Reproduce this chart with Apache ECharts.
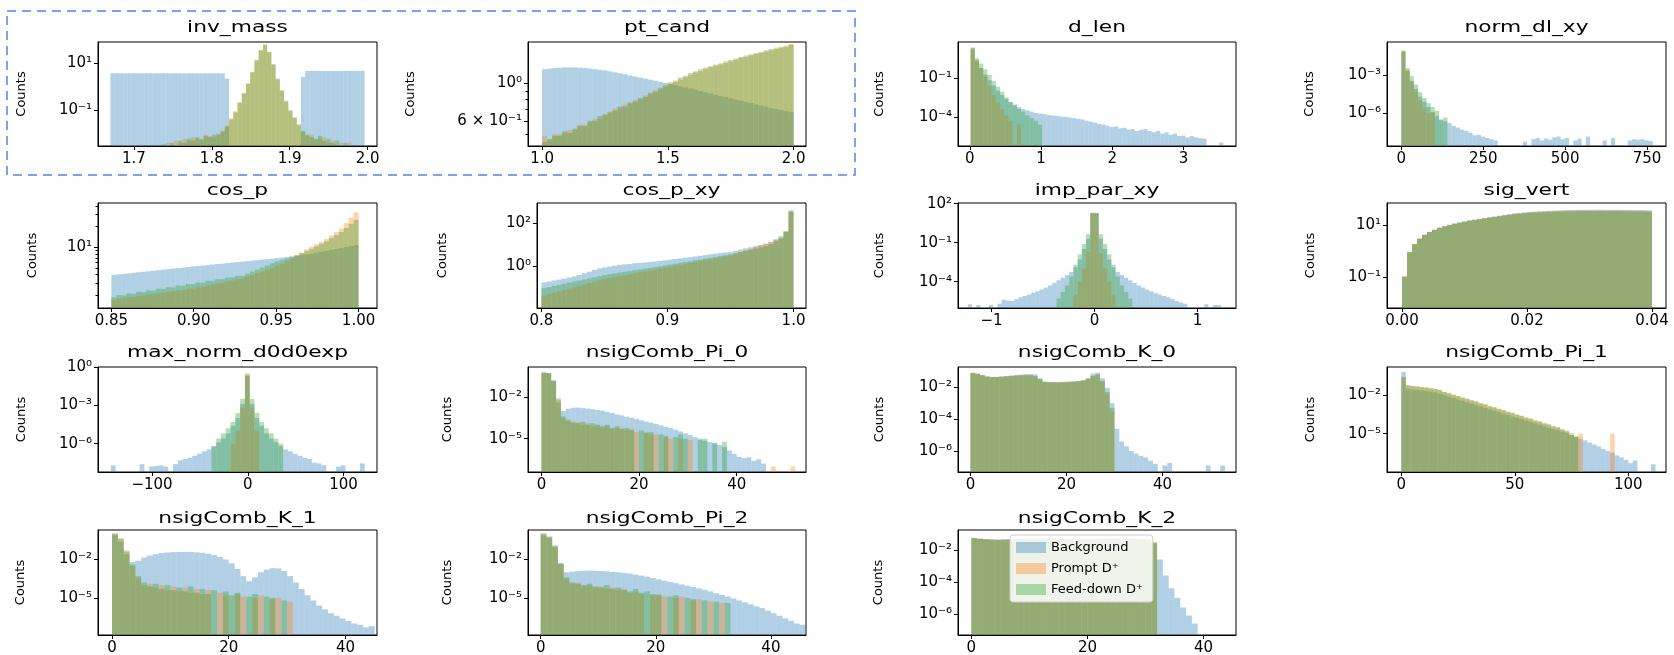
<!DOCTYPE html>
<html><head><meta charset="utf-8">
<script src="https://cdn.jsdelivr.net/npm/echarts@6/dist/echarts.min.js"></script>
<style>html,body{margin:0;padding:0;background:#fff}#c{width:1674px;height:655px}</style>
</head><body><div id="c"></div>
<script>
// ---------------- DATA (histogram bin heights) ----------------
const seriesNames = ['Background', 'Prompt D⁺', 'Feed-down D⁺'];

// inv_mass : 60 bins on [1.67, 1.996]
const invMassRange = [1.67, 1.996];
const invMassBkg = [3.72,3.70,3.71,3.69,3.70,3.72,3.70,3.68,3.71,3.70, 3.69,3.70,3.72,3.70,3.69,3.71,3.70,3.68,3.70,3.71, 3.69,3.70,3.70,3.68,3.69,3.70,3.66,2.2,0,0, 0,0,0,0,0,0,0,0,0,0, 0,0,0,0,0,2.6,4.68,4.70,4.72,4.69, 4.70,4.71,4.68,4.70,4.69,4.72,4.70,4.68,4.70,4.69];
const invMassPrompt = [0,0,0,0,0,0,0,0,0,0, 0,0,0,0.004,0,0.005,0.004,0.006,0.005,0.007, 0.006,0.005,0.009,0.008,0.007,0.01,0.013,0.022,0.045,0.09, 0.22,0.55,1.4,4.3,14,36,60,29,8.5,2.0, 0.65,0.22,0.09,0.045,0.022,0.012,0.008,0.009,0.005,0.006, 0.007,0.004,0.005,0,0.004,0,0.004,0,0,0];
const invMassFd = [0,0,0,0,0,0,0,0,0,0, 0,0,0.0035,0,0.004,0,0.005,0.004,0.006,0.005, 0.007,0.006,0.008,0.007,0.009,0.009,0.012,0.02,0.04,0.08, 0.2,0.5,1.3,4.0,13,35,62,30,9,2.2, 0.7,0.25,0.1,0.05,0.025,0.013,0.009,0.007,0.006,0.008, 0.005,0.006,0.004,0.005,0,0.004,0,0,0,0];
const invMassXTicks = [1.7, 1.8, 1.9, 2.0];
const invMassYTicks = [10, 0.1];

// pt_cand : 50 bins on [1, 2]
const ptCandRange = [1, 2];
const ptCandBkg = [1.21,1.22,1.23,1.235,1.24,1.24,1.24,1.235,1.23,1.22, 1.21,1.20,1.19,1.175,1.16,1.145,1.13,1.11,1.095,1.08, 1.065,1.05,1.035,1.02,1.005,0.99,0.975,0.96,0.945,0.93, 0.915,0.90,0.885,0.87,0.855,0.84,0.83,0.815,0.80,0.79, 0.775,0.765,0.75,0.74,0.73,0.715,0.705,0.695,0.685,0.675];
const ptCandPrompt = [0.49,0.46,0.50,0.50,0.51,0.53,0.53,0.57,0.57,0.59, 0.62,0.62,0.66,0.67,0.71,0.71,0.75,0.76,0.80,0.80, 0.85,0.86,0.91,0.92,0.98,0.99,1.04,1.05,1.11,1.12, 1.18,1.18,1.24,1.24,1.29,1.29,1.35,1.34,1.40,1.41, 1.46,1.46,1.51,1.51,1.57,1.56,1.62,1.61,1.67,1.70];
const ptCandFd = [0.45,0.47,0.49,0.49,0.52,0.51,0.54,0.56,0.56,0.60, 0.60,0.64,0.65,0.68,0.69,0.73,0.73,0.77,0.78,0.82, 0.83,0.88,0.89,0.94,0.96,1.01,1.02,1.08,1.09,1.15, 1.16,1.21,1.22,1.26,1.27,1.31,1.32,1.37,1.38,1.43, 1.43,1.48,1.49,1.53,1.54,1.59,1.59,1.64,1.64,1.69];
const ptCandXTicks = [1.0, 1.5, 2.0];
const ptCandYTicks = [1, 0.6];
const ptCandYMinor = [0.5, 0.7, 0.8, 0.9];

// d_len : 60 bins on [0.012, 3.56]
const dLenRange = [0.012, 3.56];
const dLenBkg = [18,2.2,0.63,0.2,0.07,0.028,0.011,0.005,0.0025,0.0014, 9e-4,5.6e-4,4e-4,3.2e-4,2.5e-4,2e-4,1.8e-4,1.6e-4,1.4e-4,1.26e-4, 1.17e-4,1.07e-4,1e-4,8.9e-5,7.9e-5,7.1e-5,6.3e-5,5e-5,4.2e-5,3.5e-5, 2.8e-5,2.5e-5,2e-5,1.6e-5,1.8e-5,1.26e-5,1.4e-5,1e-5,1.1e-5,7.9e-6, 1e-5,1.1e-5,7.9e-6,6.3e-6,7.9e-6,5e-6,6.3e-6,4e-6,5e-6,3.2e-6, 3.5e-6,2.5e-6,3.2e-6,2.5e-6,2.2e-6,2e-6,0,0,0,1e-6];
const dLenPrompt = [22,2.8,0.63,0.13,0.025,0.005,0.0013,4e-4,1.3e-4,5e-5, 0,2.5e-5,0,0,0,0,0,0,0,0, 0,0,0,0,0,0,0,0,0,0, 0,0,0,0,0,0,0,0,0,0, 0,0,0,0,0,0,0,0,0,0, 0,0,0,0,0,0,0,0,0,0];
const dLenFd = [25,3.5,1.4,0.5,0.18,0.063,0.022,0.009,0.0032,0.0014, 8e-4,4e-4,2.5e-4,1.3e-4,8e-5,5e-5,2.5e-5,0,0,0, 0,0,0,0,0,0,0,0,0,0, 0,0,0,0,0,0,0,0,0,0, 0,0,0,0,0,0,0,0,0,0, 0,0,0,0,0,0,0,0,0,0];
const dLenXTicks = [0, 1, 2, 3];
const dLenYTicks = [0.1, 1e-4];

// norm_dl_xy : 60 bins on [0, 768]
const normDlRange = [0, 768];
const normDlBkg = [0.06,2e-3,3.2e-4,8e-5,2e-5,8e-6,3.2e-6,1.26e-6,6.3e-7,3.5e-7, 2.5e-7,1.8e-7,1.1e-7,8e-8,5.6e-8,4.5e-8,3.2e-8,2e-8,2.2e-8,1.6e-8, 1.26e-8,1e-8,8e-9,0,0,0,0,0,0,6.3e-9, 0,1e-8,1.26e-8,8e-9,1.1e-8,9e-9,1.4e-8,1.6e-8,1e-8,1.26e-8, 0,8e-9,1.1e-8,0,1.6e-8,0,0,0,8e-9,0, 1.26e-8,0,0,0,8e-9,1e-8,9e-9,1e-8,8e-9,7e-9];
const normDlPrompt = [0.07,2.5e-3,3.2e-4,5e-5,1e-5,2.5e-6,1e-6,1.26e-6,0,0, 0,0,0,0,0,0,0,0,0,0, 0,0,0,0,0,0,0,0,0,0, 0,0,0,0,0,0,0,0,0,0, 0,0,0,0,0,0,0,0,0,0, 0,0,0,0,0,0,0,0,0,0];
const normDlFd = [0.08,3.5e-3,8e-4,1.8e-4,4.5e-5,1.6e-5,6.3e-6,3.2e-6,1.6e-6,3e-7, 5e-7,0,0,0,0,0,0,0,0,0, 0,0,0,0,0,0,0,0,0,0, 0,0,0,0,0,0,0,0,0,0, 0,0,0,0,0,0,0,0,0,0, 0,0,0,0,0,0,0,0,0,0];
const normDlXTicks = [0, 250, 500, 750];
const normDlYTicks = [1e-3, 1e-6];

// cos_p : 50 bins on [0.85, 1.0]
const cosPRange = [0.85, 1.0];
const cosPBkg = [3.96,4.03,4.10,4.17,4.25,4.32,4.40,4.47,4.55,4.63, 4.71,4.80,4.88,4.97,5.06,5.14,5.24,5.32,5.41,5.50, 5.60,5.69,5.78,5.88,5.97,6.08,6.18,6.28,6.38,6.49, 6.61,6.71,6.82,6.95,7.10,7.24,7.39,7.55,7.71,7.87, 8.07,8.32,8.59,8.85,9.14,9.42,9.72,10.1,10.4,10.8];
const cosPPrompt = [1.72,1.78,1.79,1.87,1.88,1.95,1.97,2.04,2.06,2.14, 2.16,2.24,2.27,2.35,2.38,2.46,2.49,2.61,2.66,2.79, 2.85,2.99,3.05,3.20,3.27,3.43,3.51,3.74,3.93,4.21, 4.43,4.73,4.98,5.34,5.76,6.30,6.80,7.57,8.35,9.31, 10.2,11.1,12.0,13.2,14.8,16.6,18.7,22.4,26.9,32.4];
const cosPFd = [1.86,2.01,1.98,2.12,2.10,2.24,2.21,2.36,2.33,2.49, 2.47,2.62,2.60,2.77,2.75,2.91,2.90,3.07,3.06,3.24, 3.23,3.42,3.43,3.61,3.62,3.82,3.83,4.12,4.42,4.73, 5.07,5.43,5.82,6.22,6.53,6.85,7.19,7.67,8.22,8.81, 9.51,10.3,11.2,12.2,13.6,15.1,16.7,19.1,21.9,25.1];
const cosPXTicks = [0.85, 0.90, 0.95, 1.00];
const cosPYTicks = [10];
const cosPYMinor = [2,3,4,5,6,7,8,9,20,30,40];

// cos_p_xy : 50 bins on [0.8, 1.0]
const cosPXYRange = [0.8, 1.0];
const cosPXYBkg = [0.175,0.193,0.214,0.237,0.263,0.292,0.331,0.389,0.468,0.55, 0.66,0.776,0.871,0.955,1.05,1.15,1.20,1.26,1.35,1.41, 1.48,1.58,1.66,1.74,1.86,2.0,2.14,2.29,2.45,2.63, 2.82,3.02,3.24,3.55,3.80,4.07,4.37,4.68,5.25,5.89, 6.76,7.59,8.51,9.55,10.7,13.2,17.8,25.1,41.7,355];
const cosPXYPrompt = [0.0429,0.0497,0.0575,0.0667,0.0773,0.0895,0.104,0.120,0.139,0.161, 0.187,0.217,0.251,0.278,0.308,0.340,0.377,0.417,0.461,0.511, 0.565,0.625,0.692,0.766,0.847,0.938,1.04,1.15,1.27,1.41, 1.56,1.72,1.91,2.11,2.33,2.58,2.86,3.16,3.80,4.57, 5.50,6.61,7.94,9.55,11.5,13.8,16.6,20.0,41.7,316];
const cosPXYFd = [0.0944,0.106,0.119,0.134,0.150,0.169,0.190,0.213,0.239,0.268, 0.301,0.339,0.380,0.415,0.452,0.493,0.537,0.586,0.640,0.697, 0.760,0.828,0.904,0.986,1.07,1.17,1.29,1.41,1.55,1.70, 1.86,2.04,2.24,2.45,2.69,2.95,3.24,3.55,4.01,4.54, 5.13,5.79,6.56,7.41,8.38,10.5,14.5,20.0,39.8,398];
const cosPXYXTicks = [0.8, 0.9, 1.0];
const cosPXYYTicks = [100, 1];

// imp_par_xy : 60 bins on [-1.23, 1.23]
const impParRange = [-1.23, 1.23];
const impParBkg = [1.8e-6,0,1.6e-6,0,0,1.6e-6,0,2e-6,4e-6,3.5e-6, 3.2e-6,4.5e-6,6.3e-6,7.9e-6,1e-5,1.4e-5,1.8e-5,2.5e-5,3.5e-5,5e-5, 7.9e-5,1.26e-4,2e-4,3.2e-4,5.6e-4,1.26e-3,5e-3,0.032,0.2,17.8, 17.8,0.2,0.032,5e-3,1.26e-3,5.6e-4,3.2e-4,2e-4,1.26e-4,7.9e-5, 5e-5,3.5e-5,2.4e-5,1.8e-5,1.3e-5,1e-5,7.9e-6,6.3e-6,4.5e-6,3.2e-6, 2.5e-6,2e-6,0,0,0,0,1.8e-6,0,1.6e-6,1.6e-6];
const impParPrompt = [0,0,0,0,0,0,0,0,0,0, 0,0,0,0,0,0,0,0,0,0, 0,0,0,0,0,1e-5,1e-4,1e-3,0.02,20, 18,0.015,1e-3,1e-4,1e-5,0,0,0,0,0, 0,0,0,0,0,0,0,0,0,0, 0,0,0,0,0,0,0,0,0,0];
const impParFd = [0,0,0,0,0,0,0,0,0,0, 0,0,0,0,0,0,0,0,0,0, 0,5e-6,1.6e-5,5e-5,2.5e-4,2e-3,0.0126,0.079,0.45,20, 20,0.45,0.079,0.0126,2e-3,2.5e-4,5e-5,1.6e-5,5e-6,0, 0,0,0,0,0,0,0,0,0,0, 0,0,0,0,0,0,0,0,0,0];
const impParXTicks = [-1, 0, 1];
const impParYTicks = [100, 0.1, 1e-4];

// sig_vert : 50 bins on [0, 0.04]
const sigVertRange = [0, 0.04];
const sigVertBkg = [0.1,0.89,1.82,2.95,4.17,5.37,6.46,7.76,8.91,10, 11.2,12.3,13.5,14.8,15.8,17.0,18.2,19.5,20.9,22.4, 24.0,25.7,27.5,28.8,30.2,31.6,32.4,33.1,33.9,34.7, 35.5,36.3,36.7,37.2,37.6,38.0,38.0,38.1,38.0,38.2, 38.0,37.9,38.0,38.1,37.8,37.6,37.2,37.2,36.7,36.3];
const sigVertPrompt = [0.11,0.9,1.85,2.95,4.15,5.35,6.4,7.7,8.85,9.95, 11.1,12.2,13.3,14.6,15.6,16.7,17.9,19.1,20.4,21.8, 23.2,24.7,26.3,27.5,28.8,30.0,30.7,31.3,32.0,32.7, 33.4,34.0,34.3,34.7,35.0,35.3,35.2,35.4,35.1,35.3, 35.1,35.0,35.2,35.1,34.8,34.6,34.2,34.2,33.8,33.4];
const sigVertFd = [0.1,0.87,1.8,2.9,4.1,5.3,6.4,7.7,8.8,9.9, 11.0,12.1,13.2,14.4,15.4,16.5,17.6,18.8,20.0,21.3, 22.6,24.0,25.5,26.6,27.8,29.0,29.6,30.2,30.8,31.5, 32.1,32.7,33.0,33.4,33.7,34.0,33.9,34.1,33.8,34.0, 33.8,33.7,33.9,33.8,33.5,33.3,33.0,32.9,32.5,32.1];
const sigVertXTicks = [0, 0.02, 0.04];
const sigVertYTicks = [10, 0.1];

// max_norm_d0d0exp : 53 bins on [-143, 122]
const maxNormRange = [-143, 122];
const maxNormBkg = [2e-8,0,0,0,0,0,2.5e-8,0,1.6e-8,1.8e-8, 2e-8,1.6e-8,0,2.5e-8,5e-8,6.3e-8,8e-8,1.1e-7,1.6e-7,2.5e-7, 3.5e-7,6.3e-7,1.26e-6,2.5e-6,6.3e-6,2.5e-5,1e-4,1.26e-3,0.2,1.26e-3, 1e-4,2.5e-5,6.3e-6,2.5e-6,1.26e-6,6.3e-7,3.5e-7,2.5e-7,1.6e-7,1.1e-7, 8e-8,6.3e-8,3.2e-8,2.8e-8,2e-8,0,0,1.6e-8,2e-8,0, 0,0,2.8e-8];
const maxNormPrompt = [0,0,0,0,0,0,0,0,0,0, 0,0,0,0,0,0,0,0,0,0, 0,0,0,0,0,1e-6,1e-5,6.3e-4,0.32,6.3e-4, 1e-5,0,0,0,0,0,0,0,0,0, 0,0,0,0,0,0,0,0,0,0, 0,0,0];
const maxNormFd = [0,0,0,0,0,0,0,0,0,0, 0,0,0,0,0,0,0,0,0,0, 0,6e-7,2.5e-6,6.3e-6,1.6e-5,5e-5,2.5e-4,3.2e-3,0.25,3.2e-3, 2.5e-4,5e-5,1.6e-5,6.3e-6,2.5e-6,1e-6,0,0,0,0, 0,0,0,0,0,0,0,0,0,0, 0,0,0];
const maxNormXTicks = [-100, 0, 100];
const maxNormYTicks = [1, 1e-3, 1e-6];

// nsigComb_Pi_0 : 52 bins on [0, 52]
const pi0Range = [0, 52];
const pi0Bkg = [0.56,0.5,0.16,0.004,1e-3,1.41e-3,1.7e-3,1.74e-3,1.58e-3,1.45e-3, 1.32e-3,1.17e-3,1.05e-3,8.5e-4,7.1e-4,5.6e-4,4.7e-4,3.8e-4,3.2e-4,2.6e-4, 2.1e-4,1.7e-4,1.41e-4,1.15e-4,9.1e-5,7.2e-5,5.8e-5,4.4e-5,3.3e-5,2.4e-5, 1.8e-5,1.3e-5,1e-5,7.1e-6,5.6e-6,4.5e-6,3.5e-6,2.5e-6,1.4e-6,7.9e-7, 5e-7,4e-7,4.5e-7,2.5e-7,3.2e-7,1.6e-7,0,0,0,0, 0,0];
const pi0Prompt = [0.55,0.5,0.13,0.006,3e-4,2.5e-4,1.3e-4,1.6e-4,1e-4,1.3e-4, 8e-5,1e-4,6e-5,8e-5,5e-5,6e-5,6e-5,4e-5,5e-5,3e-5, 0,3e-5,2e-5,2e-5,0,1.3e-5,1e-5,0,1e-5,0, 8e-6,0,0,0,0,0,0,0,0,0, 0,0,0,0,0,0,0,1e-7,0,0, 0,1e-7];
const pi0Fd = [0.6,0.55,0.15,0.008,4e-4,2e-4,1.6e-4,1.3e-4,1.6e-4,1e-4, 1.3e-4,1e-4,8e-5,1e-4,6e-5,8e-5,5e-5,6e-5,4e-5,0, 4e-5,2.5e-5,3e-5,0,2e-5,1.6e-5,0,1.3e-5,2e-5,1e-5, 0,0,8e-6,1e-5,0,5e-6,0,6e-6,0,0, 0,0,0,0,0,0,0,0,0,0, 0,0];
const pi0XTicks = [0, 20, 40];
const pi0YTicks = [1e-2, 1e-5];

// nsigComb_K_0 : 53 bins on [0, 53]
const k0Range = [0, 53];
const k0Bkg = [0.0759,0.0676,0.0562,0.0468,0.0437,0.0437,0.0457,0.0501,0.0537,0.0575, 0.0617,0.0646,0.0661,0.0631,0.0355,0.0224,0.0209,0.0209,0.0209,0.0214, 0.0224,0.0234,0.0251,0.0282,0.038,0.0708,0.0794,0.0355,0.0089,0.001, 2.5e-5,4e-6,2e-6,1e-6,7e-7,5e-7,4e-7,2.5e-7,1.6e-7,0, 1.26e-7,1.8e-7,0,0,0,0,0,0,0,1.26e-7, 0,0,1.26e-7];
const k0Prompt = [0.078,0.069,0.057,0.046,0.042,0.044,0.046,0.048,0.049,0.053, 0.054,0.057,0.055,0.048,0.03,0.021,0.02,0.021,0.02,0.021, 0.022,0.021,0.024,0.026,0.034,0.052,0.06,0.022,0.004,3e-4, 0,0,0,0,0,0,0,0,0,0, 0,0,0,0,0,0,0,0,0,0, 0,0,0];
const k0Fd = [0.081,0.071,0.056,0.045,0.043,0.043,0.045,0.047,0.05,0.052, 0.055,0.056,0.056,0.05,0.032,0.021,0.02,0.02,0.02,0.02, 0.021,0.022,0.023,0.025,0.032,0.05,0.063,0.025,0.005,5e-4, 0,0,0,0,0,0,0,0,0,0, 0,0,0,0,0,0,0,0,0,0, 0,0,0];
const k0XTicks = [0, 20, 40];
const k0YTicks = [1e-2, 1e-4, 1e-6];

// nsigComb_Pi_1 : 56 bins on [0, 112]
const pi1Range = [0, 112];
const pi1Bkg = [0.66,0.032,0.028,0.026,0.024,0.021,0.0195,0.017,0.0132,0.01, 7.8e-3,6e-3,4.7e-3,3.6e-3,2.8e-3,2.2e-3,1.7e-3,1.32e-3,1.02e-3,7.9e-4, 6.2e-4,4.8e-4,3.7e-4,2.9e-4,2.2e-4,1.74e-4,1.35e-4,1.05e-4,8.1e-5,6.3e-5, 5e-5,3.8e-5,3e-5,2.3e-5,1.8e-5,1.4e-5,1.1e-5,7.9e-6,5.6e-6,4e-6, 3e-6,2e-6,1.4e-6,1e-6,6.3e-7,4.5e-7,3.2e-7,2e-7,1.4e-7,8.9e-8, 5e-8,7.9e-8,0,0,0,4e-8];
const pi1Prompt = [0.24,0.062,0.054,0.050,0.046,0.041,0.037,0.032,0.026,0.019, 0.0148,0.0115,9e-3,7e-3,5.4e-3,4.2e-3,3.3e-3,2.5e-3,2.0e-3,1.5e-3, 1.15e-3,9e-4,7e-4,5.4e-4,4.2e-4,3.3e-4,2.5e-4,1.9e-4,1.5e-4,1.2e-4, 9e-5,7e-5,5.2e-5,4.2e-5,2.8e-5,2.4e-5,1.4e-5,1.1e-5,5e-6,1e-5, 0,0,0,0,0,0,1e-5,0,0,0, 0,0,0,0,0,0];
const pi1Fd = [0.27,0.059,0.052,0.049,0.043,0.040,0.034,0.031,0.025,0.018, 0.0142,0.0108,8.7e-3,6.4e-3,5.3e-3,3.9e-3,3.2e-3,2.3e-3,1.9e-3,1.36e-3, 1.14e-3,8.2e-4,6.9e-4,4.9e-4,4.2e-4,2.9e-4,2.5e-4,1.75e-4,1.5e-4,1.0e-4, 8.9e-5,6.2e-5,5.4e-5,3.6e-5,3.3e-5,2.0e-5,1.7e-5,8e-6,6.3e-6,0, 0,0,0,0,0,0,0,0,0,0, 0,0,0,0,0,0];
const pi1XTicks = [0, 50, 100];
const pi1YTicks = [1e-2, 1e-5];

// nsigComb_K_1 : 45 bins on [0, 45]
const k1Range = [0, 45];
const k1Bkg = [0.79,0.25,0.025,6.3e-3,7.9e-3,0.014,0.02,0.026,0.032,0.035, 0.037,0.038,0.039,0.038,0.036,0.033,0.028,0.022,0.016,0.01, 5e-3,1.8e-3,5e-4,2e-4,4e-4,1e-3,1.6e-3,2.1e-3,2e-3,1.26e-3, 5e-4,1.6e-4,5e-5,1.6e-5,6.3e-6,2.5e-6,1.26e-6,6.3e-7,4e-7,2.5e-7, 1.6e-7,1e-7,7.9e-8,5e-8,6.3e-8];
const k1Prompt = [1.0,0.4,0.04,3.2e-3,4e-4,1e-4,1.26e-4,6.3e-5,1e-4,4e-5, 7.9e-5,3.2e-5,6.3e-5,2.5e-5,5e-5,2e-5,4e-5,0,2.5e-5,1.6e-5, 0,2e-5,1.26e-5,0,1e-5,1.6e-5,0,7.9e-6,1e-5,0, 5e-6,0,0,0,0,0,0,0,0,0, 0,0,0,0,0];
const k1Fd = [1.12,0.45,0.05,4e-3,5e-4,1.6e-4,7.9e-5,1.26e-4,5e-5,1e-4, 4e-5,6.3e-5,3.2e-5,7.9e-5,2.5e-5,5e-5,2e-5,4e-5,0,3.2e-5, 1.6e-5,2.5e-5,0,1.26e-5,2e-5,0,1.26e-5,1e-5,0,6.3e-6, 0,0,0,0,0,0,0,0,0,0, 0,0,0,0,0];
const k1XTicks = [0, 20, 40];
const k1YTicks = [1e-2, 1e-5];

// nsigComb_Pi_2 : 46 bins on [0, 46]
const pi2Range = [0, 46];
const pi2Bkg = [0.79,0.5,0.1,5e-3,1e-3,1.12e-3,1.26e-3,1.32e-3,1.35e-3,1.32e-3, 1.26e-3,1.17e-3,1.07e-3,1e-3,8.9e-4,7.9e-4,6.6e-4,5.5e-4,4.5e-4,3.5e-4, 2.8e-4,2.2e-4,1.8e-4,1.4e-4,1.12e-4,8.9e-5,7.1e-5,5.6e-5,4.2e-5,3.2e-5, 2.3e-5,1.7e-5,1.26e-5,8.9e-6,6.3e-6,4.5e-6,3.2e-6,2.2e-6,1.6e-6,1e-6, 6.3e-7,4e-7,2.5e-7,1.6e-7,1e-7,7.9e-8];
const pi2Prompt = [1.0,0.56,0.1,4e-3,3.2e-4,1.26e-4,1.6e-4,7.9e-5,1e-4,6.3e-5, 7.9e-5,5e-5,6.3e-5,4e-5,5e-5,2.5e-5,3.2e-5,2e-5,0,1.6e-5, 2e-5,1.26e-5,0,1e-5,1.26e-5,0,6.3e-6,7.9e-6,0,5e-6, 0,4e-6,0,0,0,0,0,0,0,0, 0,0,0,0,0,0];
const pi2Fd = [1.12,0.63,0.126,5e-3,4e-4,1.6e-4,1.26e-4,1e-4,1.26e-4,7.9e-5, 6.3e-5,1e-4,5e-5,6.3e-5,4e-5,3.2e-5,5e-5,2.5e-5,3.2e-5,2e-5, 1.6e-5,0,1.26e-5,1.6e-5,0,1e-5,7.9e-6,0,6.3e-6,0, 5e-6,0,4e-6,0,0,0,0,0,0,0, 0,0,0,0,0,0];
const pi2XTicks = [0, 20, 40];
const pi2YTicks = [1e-2, 1e-5];

// nsigComb_K_2 : 44 bins on [0, 44]
const k2Range = [0, 44];
const k2Bkg = [0.0562,0.0501,0.0468,0.0447,0.0437,0.0447,0.0457,0.0468,0.0479,0.049, 0.0501,0.0501,0.0513,0.0513,0.0501,0.0501,0.049,0.049,0.0479,0.0479, 0.0479,0.049,0.0501,0.0501,0.0513,0.0525,0.0525,0.0513,0.0501,0.0468, 0.0447,0.0251,2.5e-3,2.5e-4,4e-5,1e-5,2.5e-6,7.9e-7,2.5e-7,0, 0,0,0,0];
const k2Prompt = [0.055,0.048,0.047,0.044,0.043,0.044,0.044,0.047,0.046,0.049, 0.048,0.050,0.049,0.051,0.048,0.049,0.047,0.048,0.046,0.047, 0.046,0.049,0.048,0.050,0.049,0.052,0.050,0.051,0.048,0.046, 0.041,0.028,0,0,0,0,0,0,0,0, 0,0,0,0];
const k2Fd = [0.054,0.049,0.046,0.043,0.042,0.043,0.045,0.046,0.047,0.048, 0.049,0.049,0.050,0.050,0.049,0.048,0.048,0.047,0.047,0.046, 0.047,0.048,0.049,0.049,0.050,0.051,0.051,0.050,0.049,0.045, 0.042,0.03,0,0,0,0,0,0,0,0, 0,0,0,0];
const k2XTicks = [0, 20, 40];
const k2YTicks = [1e-2, 1e-4, 1e-6];

// ---------------- PANEL TABLE ----------------
const panels = [
  {title:'inv_mass', range:invMassRange, hist:[invMassBkg, invMassPrompt, invMassFd], xt:invMassXTicks, yt:invMassYTicks, dec:1},
  {title:'pt_cand', range:ptCandRange, hist:[ptCandBkg, ptCandPrompt, ptCandFd], xt:ptCandXTicks, yt:ptCandYTicks, dec:1, minor:ptCandYMinor},
  {title:'d_len', range:dLenRange, hist:[dLenBkg, dLenPrompt, dLenFd], xt:dLenXTicks, yt:dLenYTicks, dec:0},
  {title:'norm_dl_xy', range:normDlRange, hist:[normDlBkg, normDlPrompt, normDlFd], xt:normDlXTicks, yt:normDlYTicks, dec:0},
  {title:'cos_p', range:cosPRange, hist:[cosPBkg, cosPPrompt, cosPFd], xt:cosPXTicks, yt:cosPYTicks, dec:2, minor:cosPYMinor},
  {title:'cos_p_xy', range:cosPXYRange, hist:[cosPXYBkg, cosPXYPrompt, cosPXYFd], xt:cosPXYXTicks, yt:cosPXYYTicks, dec:1},
  {title:'imp_par_xy', range:impParRange, hist:[impParBkg, impParPrompt, impParFd], xt:impParXTicks, yt:impParYTicks, dec:0},
  {title:'sig_vert', range:sigVertRange, hist:[sigVertBkg, sigVertPrompt, sigVertFd], xt:sigVertXTicks, yt:sigVertYTicks, dec:2},
  {title:'max_norm_d0d0exp', range:maxNormRange, hist:[maxNormBkg, maxNormPrompt, maxNormFd], xt:maxNormXTicks, yt:maxNormYTicks, dec:0},
  {title:'nsigComb_Pi_0', range:pi0Range, hist:[pi0Bkg, pi0Prompt, pi0Fd], xt:pi0XTicks, yt:pi0YTicks, dec:0},
  {title:'nsigComb_K_0', range:k0Range, hist:[k0Bkg, k0Prompt, k0Fd], xt:k0XTicks, yt:k0YTicks, dec:0},
  {title:'nsigComb_Pi_1', range:pi1Range, hist:[pi1Bkg, pi1Prompt, pi1Fd], xt:pi1XTicks, yt:pi1YTicks, dec:0},
  {title:'nsigComb_K_1', range:k1Range, hist:[k1Bkg, k1Prompt, k1Fd], xt:k1XTicks, yt:k1YTicks, dec:0},
  {title:'nsigComb_Pi_2', range:pi2Range, hist:[pi2Bkg, pi2Prompt, pi2Fd], xt:pi2XTicks, yt:pi2YTicks, dec:0},
  {title:'nsigComb_K_2', range:k2Range, hist:[k2Bkg, k2Prompt, k2Fd], xt:k2XTicks, yt:k2YTicks, dec:0}
];

// ---------------- LAYOUT (pixel boxes, axis extents) ----------------
const R = [[42,146],[203,308],[367,472],[530,635]];
const boxes = [
  [98,R[0],377],[528,R[0],806],[958,R[0],1236],[1387,R[0],1666],
  [98,R[1],377],[537,R[1],806],[958,R[1],1236],[1387,R[1],1666],
  [98,R[2],377],[528,R[2],806],[958,R[2],1236],[1387,R[2],1666],
  [98,R[3],377],[528,R[3],806],[958,R[3],1236]
];
const xExt = [[1.654,2.012],[0.944,2.049],[-0.165,3.737],[-43.7,808],
  [0.8419,1.0112],[0.7965,1.0099],[-1.325,1.374],[-0.0024,0.04224],
  [-156.4,134.9],[-2.75,54.2],[-2.59,55.3],[-6.3,116.6],
  [-2.4,45.4],[-2.2,46.1],[-2.3,45.6]];
const yExtLog = [[-2.53,1.9],[-0.37,0.243],[-6.27,1.82],[-8.53,-0.44],
  [0.115,1.645],[-1.95,2.94],[-6.03,2.05],[-2.2,1.84],
  [-8.22,0],[-7.4,0.16],[-7.31,-0.74],[-8.0,0.21],
  [-7.9,0.3],[-7.9,0.3],[-7.32,-0.76]];
const nameGaps = [70,111,72,71,59,88,72,70,70,74,72,70,71,74,73];
const titleY = [28,191,353,519];
const rowOf = [0,0,0,0,1,1,1,1,2,2,2,2,3,3,3];

const FONT = "'DejaVu Sans', sans-serif";
const COLORS = ['rgba(31,119,180,0.35)','rgba(255,127,14,0.35)','rgba(44,160,44,0.35)'];
const SUP = {'-':'⁻','0':'⁰','1':'¹','2':'²','3':'³','4':'⁴','5':'⁵','6':'⁶','7':'⁷','8':'⁸','9':'⁹'};
function pow10Label(e){ return '10' + String(e).split('').map(c => SUP[c]).join(''); }
function logLabel(v){
  const e = Math.log10(v), r = Math.round(e);
  if (Math.abs(e - r) < 1e-6) return pow10Label(r);
  const f = Math.floor(e), m = Math.round(v / Math.pow(10, f));
  return m + ' × ' + pow10Label(f);
}
function binsToData(vals, range){
  const w = (range[1] - range[0]) / vals.length, out = [];
  vals.forEach((v, i) => { if (v > 0) out.push([range[0] + i * w, range[0] + (i + 1) * w, v]); });
  return out;
}
function makeRender(color){
  return function(params, api){
    const cs = params.coordSys;
    const p0 = api.coord([api.value(0), api.value(2)]);
    const p1 = api.coord([api.value(1), api.value(2)]);
    const bottom = cs.y + cs.height;
    const rect = echarts.graphic.clipRectByRect(
      {x: p0[0], y: p0[1], width: p1[0] - p0[0], height: bottom - p0[1]},
      {x: cs.x, y: cs.y, width: cs.width, height: cs.height});
    if (!rect) return null;
    return {type:'rect', shape: rect, style: {fill: color}};
  };
}

const grids = [], xAxes = [], yAxes = [], series = [], graphics = [];
panels.forEach((p, k) => {
  const b = boxes[k];
  grids.push({left:b[0], top:b[1][0], width:b[2]-b[0], height:b[1][1]-b[1][0],
    show:true, borderColor:'#000', borderWidth:1, backgroundColor:'transparent',
    containLabel:false, outerBoundsMode:'none'});
  const dec = p.dec;
  xAxes.push({type:'value', gridIndex:k, min:xExt[k][0], max:xExt[k][1],
    axisLine:{show:true, onZero:false, lineStyle:{color:'#000', width:1}},
    axisTick:{show:true, length:4, lineStyle:{color:'#000'}, customValues:p.xt},
    axisLabel:{show:true, customValues:p.xt, margin:6, fontSize:15, fontFamily:FONT, color:'#000',
      formatter: v => v.toFixed(dec).replace('-', '−')},
    splitLine:{show:false}});
  yAxes.push({type:'log', logBase:10, gridIndex:k,
    min:Math.pow(10, yExtLog[k][0]), max:Math.pow(10, yExtLog[k][1]),
    axisLine:{show:true, onZero:false, lineStyle:{color:'#000', width:1}},
    axisTick:{show:true, length:4, lineStyle:{color:'#000'}, customValues:p.yt},
    axisLabel:{show:true, customValues:p.yt, margin:6, fontSize:15, fontFamily:FONT, color:'#000',
      formatter: v => logLabel(v)},
    splitLine:{show:false}, minorTick:{show:false},
    name:'Counts', nameLocation:'middle', nameGap:nameGaps[k], nameRotate:90,
    nameTextStyle:{fontSize:13, fontFamily:FONT, color:'#000'}});
  p.hist.forEach((vals, s) => {
    series.push({type:'custom', name:seriesNames[s], xAxisIndex:k, yAxisIndex:k,
      data: binsToData(vals, p.range), encode:{x:[0,1], y:2},
      renderItem: makeRender(COLORS[s]), itemStyle:{color:COLORS[s]},
      silent:true, animation:false});
  });
  graphics.push({type:'text', x:(b[0]+b[2])/2, y:titleY[rowOf[k]], scaleX:1.45,
    style:{text:p.title, fontSize:15, fontFamily:FONT, fill:'#000', textAlign:'center', textVerticalAlign:'middle'}});
});
// minor tick overlays (log axes with short ticks only)
panels.forEach((p, k) => {
  if (!p.minor) return;
  const b = boxes[k], gi = grids.length;
  grids.push({left:b[0], top:b[1][0], width:b[2]-b[0], height:b[1][1]-b[1][0], show:false, containLabel:false, outerBoundsMode:'none'});
  xAxes.push({type:'value', gridIndex:gi, min:xExt[k][0], max:xExt[k][1], show:false});
  yAxes.push({type:'log', logBase:10, gridIndex:gi, min:Math.pow(10, yExtLog[k][0]), max:Math.pow(10, yExtLog[k][1]),
    axisLine:{show:false}, axisTick:{show:true, length:2.5, lineStyle:{color:'#000'}, customValues:p.minor},
    axisLabel:{show:false}, splitLine:{show:false}});
});
graphics.push({type:'rect', shape:{x:7, y:11, width:848, height:164},
  style:{fill:null, stroke:'#4a86f0', lineWidth:1.5, lineDash:[9,6]}, z:100});

const chart = echarts.init(document.getElementById('c'), null, {renderer:'canvas'});
chart.setOption({
  animation:false,
  backgroundColor:'#fff',
  grid: grids, xAxis: xAxes, yAxis: yAxes, series: series,
  legend: {data: seriesNames, left:1010, top:535, orient:'vertical', itemWidth:30, itemHeight:11, itemGap:8,
    icon:'rect', selectedMode:false, padding:[6,10,6,6], backgroundColor:'rgba(255,255,255,0.85)',
    borderColor:'#cfcfcf', borderWidth:1, borderRadius:3,
    textStyle:{fontSize:13, fontFamily:FONT, color:'#000'}, z:20},
  graphic: graphics
});
</script></body></html>
